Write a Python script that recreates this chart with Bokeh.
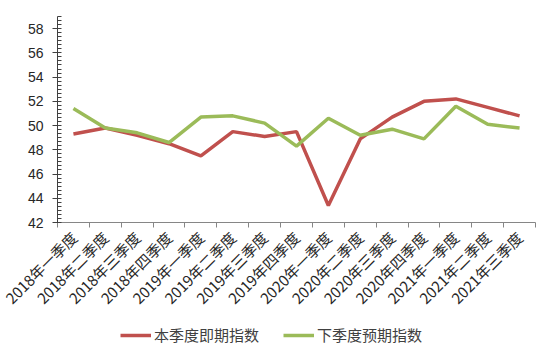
import numpy as np
from bokeh.plotting import figure
from bokeh.layouts import column
from bokeh.models import Range1d, FixedTicker, Legend, LegendItem
from bokeh.embed import file_html
from bokeh.resources import INLINE

categories = ["2018年一季度", "2018年二季度", "2018年三季度", "2018年四季度",
              "2019年一季度", "2019年二季度", "2019年三季度", "2019年四季度",
              "2020年一季度", "2020年二季度", "2020年三季度", "2020年四季度",
              "2021年一季度", "2021年二季度", "2021年三季度"]
current_index = [49.3, 49.8, 49.2, 48.5, 47.5, 49.5, 49.1, 49.5,
                 43.4, 48.9, 50.7, 52.0, 52.2, 51.5, 50.8]
expected_index = [51.4, 49.8, 49.4, 48.6, 50.7, 50.8, 50.2, 48.3,
                  50.6, 49.2, 49.7, 48.9, 51.6, 50.1, 49.8]
y_ticks = [42, 44, 46, 48, 50, 52, 54, 56, 58]
series_names = ["本季度即期指数", "下季度预期指数"]

RED = "#C0504D"
GREEN = "#9BBB59"

x = [i + 0.5 for i in range(len(categories))]

p = figure(width=552, height=318, output_backend="svg", toolbar_location=None,
           x_range=Range1d(0, len(categories)), y_range=Range1d(42, 59),
           min_border_left=57, min_border_right=17, min_border_top=16,
           min_border_bottom=94)
p.outline_line_color = None
p.xgrid.visible = False
p.ygrid.visible = False
p.background_fill_color = "white"
p.border_fill_color = "white"

p.line(x, current_index, line_color=RED, line_width=3.5)
p.line(x, expected_index, line_color=GREEN, line_width=3.5)

# y axis
minor = [42 + k / 3 for k in range(0, 3 * 17 + 1)]
p.yaxis.ticker = FixedTicker(ticks=y_ticks, minor_ticks=minor)
p.yaxis.axis_line_color = "#404040"
p.yaxis.major_tick_line_color = "#404040"
p.yaxis.minor_tick_line_color = "#404040"
p.yaxis.major_tick_in = 3
p.yaxis.major_tick_out = 5
p.yaxis.minor_tick_in = 4
p.yaxis.minor_tick_out = 0
p.yaxis.major_label_standoff = 9
p.yaxis.major_label_text_font = "Liberation Sans"
p.yaxis.major_label_text_font_size = "14px"
p.yaxis.major_label_text_color = "#262626"

# x axis
p.xaxis.ticker = FixedTicker(ticks=x, minor_ticks=list(range(len(categories) + 1)))
p.xaxis.major_label_overrides = {xx: c for xx, c in zip(x, categories)}
p.xaxis.major_label_orientation = np.pi / 4
p.xaxis.axis_line_color = "#868686"
p.xaxis.major_tick_line_color = None
p.xaxis.minor_tick_line_color = "#868686"
p.xaxis.minor_tick_in = 0
p.xaxis.minor_tick_out = 5
p.xaxis.major_label_standoff = 6
p.xaxis.major_label_text_font = "Noto Sans CJK SC"
p.xaxis.major_label_text_font_size = "15px"
p.xaxis.major_label_text_color = "#262626"

# legend strip (series lines kept out of view; only the legend shows)
q = figure(width=552, height=35, output_backend="svg", toolbar_location=None,
           x_range=Range1d(0, len(categories)), y_range=Range1d(100, 101),
           x_axis_location=None, y_axis_location=None,
           min_border=0)
q.outline_line_color = None
q.xgrid.visible = False
q.ygrid.visible = False
q1 = q.line(x, current_index, line_color=RED, line_width=3.5)
q2 = q.line(x, expected_index, line_color=GREEN, line_width=3.5)
legend = Legend(items=[LegendItem(label=series_names[0], renderers=[q1]),
                       LegendItem(label=series_names[1], renderers=[q2])],
                orientation="horizontal", location=(63, 8),
                glyph_width=31, glyph_height=20, label_standoff=3, spacing=24,
                padding=0, margin=0, border_line_color=None,
                background_fill_alpha=0,
                label_text_font="Noto Sans CJK SC", label_text_font_size="15px",
                label_text_color="#404040")
q.add_layout(legend, "center")

layout = column(p, q, spacing=0)
open("out.html", "w").write(file_html(layout, INLINE))
